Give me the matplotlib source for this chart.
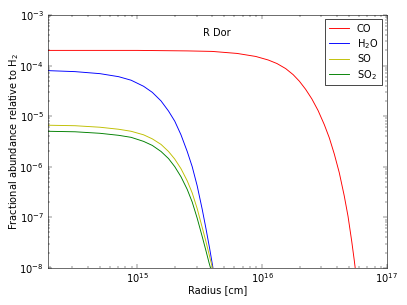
import numpy as np
import matplotlib
matplotlib.use("Agg")
import matplotlib.pyplot as plt

# DATA (log10 radius [cm] and log10 abundance)
co_logr = [14.28, 15.00, 15.40, 15.60, 15.80, 15.95, 16.05, 16.12, 16.19, 16.25, 16.30,
           16.35, 16.40, 16.45, 16.50, 16.54, 16.58, 16.62, 16.66, 16.69, 16.72, 16.74,
           16.75, 16.76]
co_logf = [-3.70, -3.70, -3.71, -3.72, -3.76, -3.82, -3.89, -3.96, -4.06, -4.18, -4.31,
           -4.47, -4.66, -4.89, -5.17, -5.43, -5.75, -6.12, -6.58, -6.98, -7.48, -7.85,
           -8.05, -8.25]

h2o_logr = [14.28, 14.50, 14.70, 14.85, 14.95, 15.05, 15.12, 15.19, 15.25, 15.30, 15.35,
            15.40, 15.44, 15.48, 15.52, 15.55, 15.58, 15.605, 15.62]
h2o_logf = [-4.10, -4.12, -4.16, -4.22, -4.29, -4.41, -4.53, -4.70, -4.90, -5.10, -5.37,
            -5.70, -6.00, -6.38, -6.84, -7.22, -7.62, -7.98, -8.25]

so_logr = [14.28, 14.50, 14.70, 14.85, 14.95, 15.05, 15.12, 15.19, 15.25, 15.30, 15.35,
           15.40, 15.44, 15.48, 15.52, 15.55, 15.58, 15.60, 15.615]
so_logf = [-5.18, -5.19, -5.22, -5.26, -5.30, -5.37, -5.45, -5.56, -5.70, -5.85, -6.04,
           -6.28, -6.52, -6.83, -7.20, -7.48, -7.78, -7.98, -8.20]

so2_logr = [14.28, 14.50, 14.70, 14.85, 14.95, 15.05, 15.12, 15.19, 15.25, 15.30, 15.35,
            15.40, 15.44, 15.48, 15.52, 15.55, 15.575, 15.59, 15.60]
so2_logf = [-5.30, -5.31, -5.34, -5.38, -5.42, -5.50, -5.58, -5.70, -5.84, -6.00, -6.20,
            -6.45, -6.70, -7.02, -7.38, -7.66, -7.90, -8.03, -8.20]

labels = ['CO', 'H$_2$O', 'SO', 'SO$_2$']
colors = ['r', 'b', 'y', 'g']

# old-style look
plt.rcParams['font.size'] = 14
plt.rcParams['xtick.direction'] = 'in'
plt.rcParams['ytick.direction'] = 'in'
plt.rcParams['xtick.top'] = True
plt.rcParams['ytick.right'] = True
plt.rcParams['xtick.major.size'] = 5
plt.rcParams['ytick.major.size'] = 5
plt.rcParams['xtick.minor.size'] = 2.5
plt.rcParams['ytick.minor.size'] = 2.5
plt.rcParams['xtick.major.width'] = 0.6
plt.rcParams['ytick.major.width'] = 0.6
plt.rcParams['xtick.minor.width'] = 0.6
plt.rcParams['ytick.minor.width'] = 0.6
plt.rcParams['xtick.major.pad'] = 4
plt.rcParams['ytick.major.pad'] = 6

fig = plt.figure(figsize=(8, 6), dpi=50.875)
ax = fig.add_axes([0.118, 0.122, 0.832, 0.828])

series = [(co_logr, co_logf), (h2o_logr, h2o_logf), (so_logr, so_logf), (so2_logr, so2_logf)]
for (lr, lf), lab, c in zip(series, labels, colors):
    ax.plot(10**np.array(lr), 10**np.array(lf), color=c, lw=1.3, label=lab)

ax.set_xscale('log')
ax.set_yscale('log')
ax.set_xlim(1.92e14, 1e17)
ax.set_ylim(1e-8, 1e-3)
ax.set_xlabel('Radius [cm]', labelpad=1)
ax.set_ylabel('Fractional abundance relative to H$_2$', labelpad=-3)
ax.text(0.5, 0.93, 'R Dor', transform=ax.transAxes, ha='center', va='center')

leg = ax.legend(loc='upper right', fancybox=False, framealpha=1, edgecolor='black',
                handlelength=2, borderaxespad=0.45, labelspacing=0.35)
leg.get_frame().set_linewidth(1.0)

fig.savefig('out.png', dpi=50.875)
